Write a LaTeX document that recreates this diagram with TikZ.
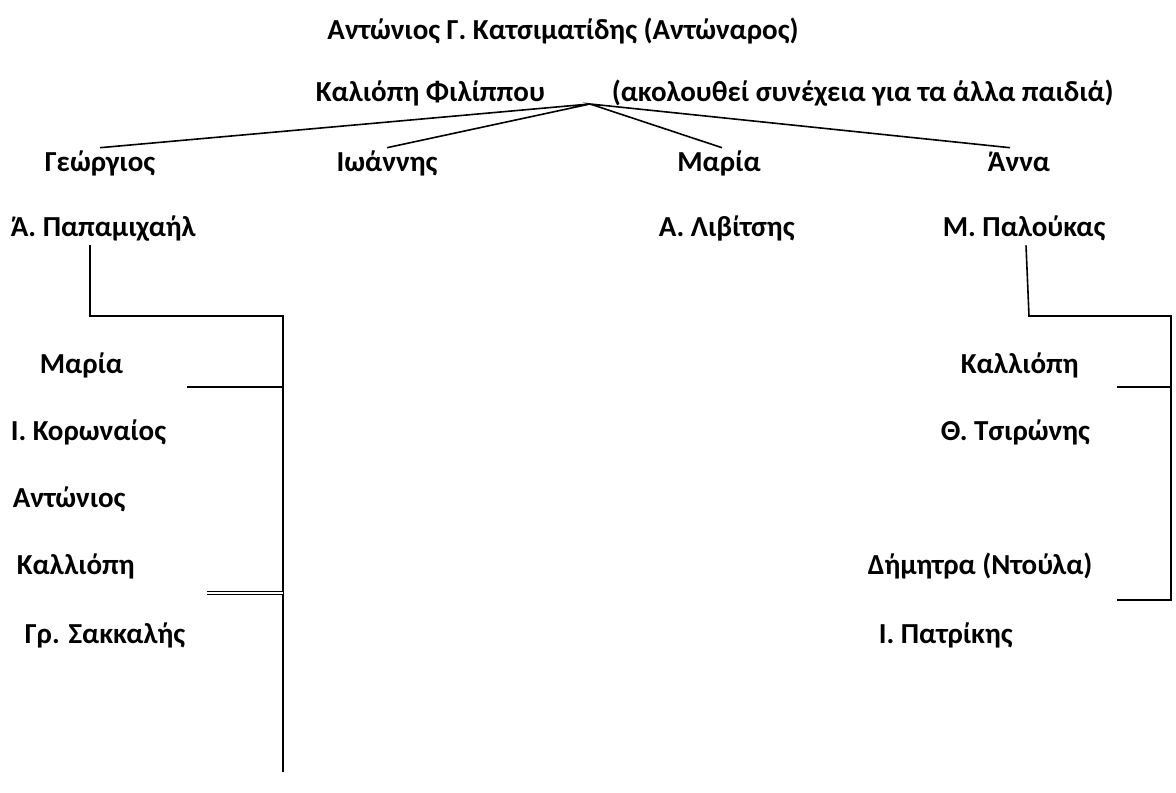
\documentclass[tikz,border=0pt]{standalone}
\usepackage{fontspec}
\setmainfont{Carlito}
\begin{document}
\begin{tikzpicture}[x=0.5pt, y=-0.5pt, line width=0.8pt,
    person/.style={font=\bfseries\fontsize{14.5}{17}\selectfont, inner sep=1pt, text height=10.5pt, text depth=3pt},
    link/.style={draw=black}]
    \useasboundingbox (0,0) rectangle (1176,792);
    % top generation
    \node[person] (father) at (563,32) {Αντώνιος Γ. Κατσιματίδης (Αντώναρος)};
    \node[person, anchor=west] (mother) at (313,94) {Καλιόπη Φιλίππου};
    \node[person, anchor=west] (more) at (609,94) {(ακολουθεί συνέχεια για τα άλλα παιδιά)};
    \coordinate (split) at (590,104);
    % children
    \node[person] (georgios) at (100,164) {Γεώργιος};
    \node[person] (ioannis) at (387,164) {Ιωάννης};
    \node[person] (maria) at (719,164) {Μαρία};
    \node[person] (anna) at (1019,164) {Άννα};
    \draw[link] (georgios.north) -- (split) -- (ioannis.north);
    \draw[link] ([xshift=1.5pt]maria.north) -- (split) -- ([xshift=-4.5pt]anna.north);
    % spouses
    \node[person, anchor=west] (papam) at (8,229) {Ά. Παπαμιχαήλ};
    \node[person, anchor=west] (livits) at (656,229) {Α. Λιβίτσης};
    \node[person, anchor=west] (palouk) at (940,229) {Μ. Παλούκας};
    % Georgios' children
    \node[person, anchor=west] (maria2) at (37,366) {Μαρία};
    \node[person, anchor=west] (koron) at (8,433) {Ι. Κορωναίος};
    \node[person, anchor=west] (antonios) at (10,500) {Αντώνιος};
    \node[person, anchor=west] (kalli) at (14,567) {Καλλιόπη};
    \node[person, anchor=west] (sakkal) at (22,636) {Γρ. Σακκαλής};
    \coordinate (lcorner) at (283,316);
    \coordinate (lend) at (283,772);
    \coordinate (lmaria) at (187,387);
    \coordinate (lkalli) at (207,593);
    \draw[link] (papam.south -| 90,0) -- (90,316) -- (lcorner) -- (lend);
    \draw[link] (lmaria) -- (lmaria -| lcorner);
    \draw[link, double, double distance=1.2pt, line width=0.6pt] (lkalli) -- (lkalli -| lcorner);
    % Anna's children
    \node[person, anchor=west] (kalli2) at (958,366) {Καλλιόπη};
    \node[person, anchor=west] (tsiron) at (938,433) {Θ. Τσιρώνης};
    \node[person, anchor=west] (dimitra) at (865,567) {Δήμητρα (Ντούλα)};
    \node[person, anchor=west] (patrik) at (876,636) {Ι. Πατρίκης};
    \coordinate (rcorner) at (1171,316);
    \coordinate (rend) at (1171,600);
    \coordinate (rkalli) at (1117,387);
    \coordinate (rdimitra) at (1117,600);
    \draw[link] (palouk.south -| 1026,0) -- (1029,316) -- (rcorner) -- (rend) -- (rdimitra);
    \draw[link] (rkalli) -- (rkalli -| rcorner);
\end{tikzpicture}
\end{document}
